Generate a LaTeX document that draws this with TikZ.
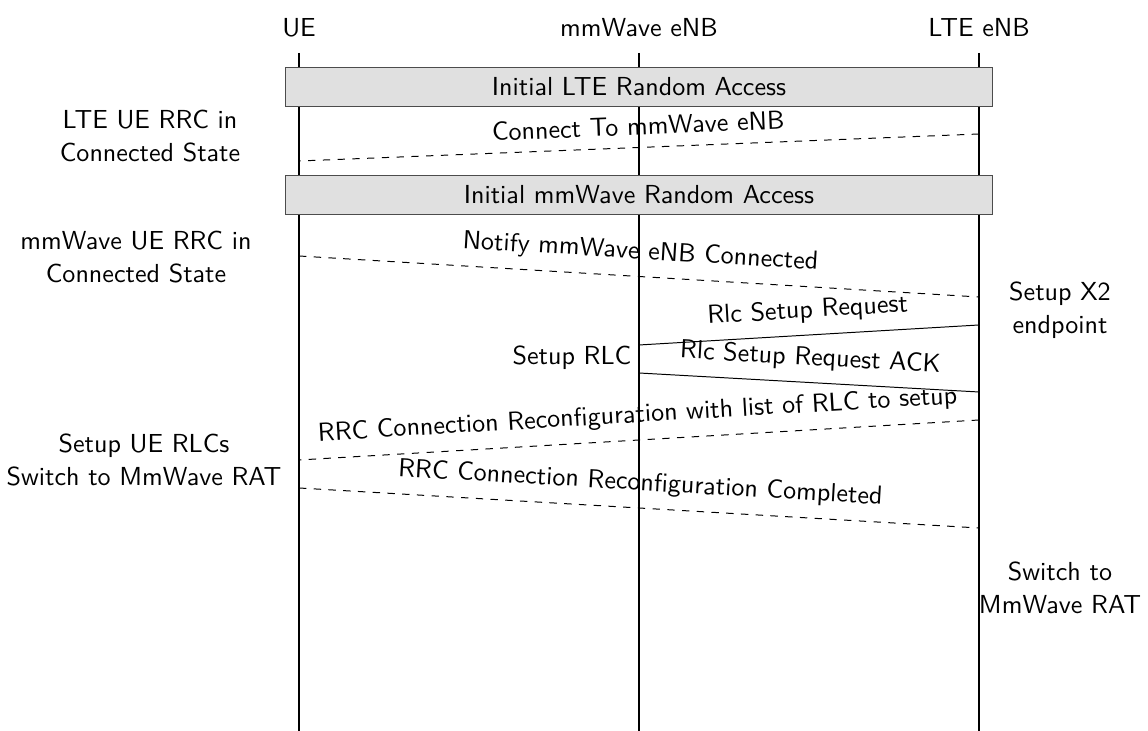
\documentclass[tikz,border=0pt]{standalone}
\usepackage{tikz}

\begin{document}
\begin{tikzpicture}[x=0.1429mm,y=-0.1429mm]
\tikzstyle{every node}=[font=\sffamily\fontsize{10.6pt}{13.2pt}\selectfont]
\tikzstyle{life}=[line width=0.8pt]
\tikzstyle{phase}=[draw=black!70,fill=black!12,minimum width=100.9mm,minimum height=5.7mm]
\tikzstyle{msg}=[midway,above=2.8pt,sloped,inner sep=2pt]
\tikzstyle{note}=[align=center]
\useasboundingbox (0,0) rectangle (1148,731);
% entities
\draw (299,28) node (ue) {UE};
\draw (639,28) node (mmw) {mmWave eNB};
\draw (979,28) node (lte) {LTE eNB};
\coordinate (ue top) at (299,53);
\coordinate (mmw top) at (639,53);
\coordinate (lte top) at (979,53);
\coordinate (ue end) at (299,731);
\coordinate (mmw end) at (639,731);
\coordinate (lte end) at (979,731);
\draw[life] (ue top) -- (ue end);
\draw[life] (mmw top) -- (mmw end);
\draw[life] (lte top) -- (lte end);
% phases
\draw (639,87) node (ltera) [phase] {Initial LTE Random Access};
\draw (639,195) node (mmwra) [phase] {Initial mmWave Random Access};
% message ends
\coordinate (c1) at (979,134);
\coordinate (c2) at (299,161);
\coordinate (n1) at (299,256);
\coordinate (n2) at (979,297);
\coordinate (r1) at (639,345);
\coordinate (r2) at (979,325);
\coordinate (a1) at (639,373);
\coordinate (a2) at (979,392);
\coordinate (l1) at (979,420);
\coordinate (l2) at (299,460);
\coordinate (d1) at (299,488);
\coordinate (d2) at (979,528);
% messages
\draw[dashed] (c1) -- (c2) node[msg] {Connect To mmWave eNB};
\draw[dashed] (n1) -- (n2) node[msg] {Notify mmWave eNB Connected};
\draw (r1) -- (r2) node[msg] {Rlc Setup Request};
\draw (a1) -- (a2) node[msg] {Rlc Setup Request ACK};
\draw[dashed] (l1) -- (l2) node[msg] {RRC Connection Reconfiguration with list of RLC to setup};
\draw[dashed] (d1) -- (d2) node[msg] {RRC Connection Reconfiguration Completed};
% states
\draw (150,136) node (ltestate) [note] {LTE UE RRC in\\Connected State};
\draw (136,257) node (mmwstate) [note] {mmWave UE RRC in\\Connected State};
\draw (1060,310) node (x2) [note] {Setup X2\\endpoint};
\draw (640,358) node (rlc) [anchor=east] {Setup RLC};
\draw (144,460) node (uerlc) [note] {Setup UE RLCs\\Switch to MmWave RAT};
\draw (1060,588) node (switch) [note] {Switch to\\MmWave RAT};
\end{tikzpicture}
\end{document}
